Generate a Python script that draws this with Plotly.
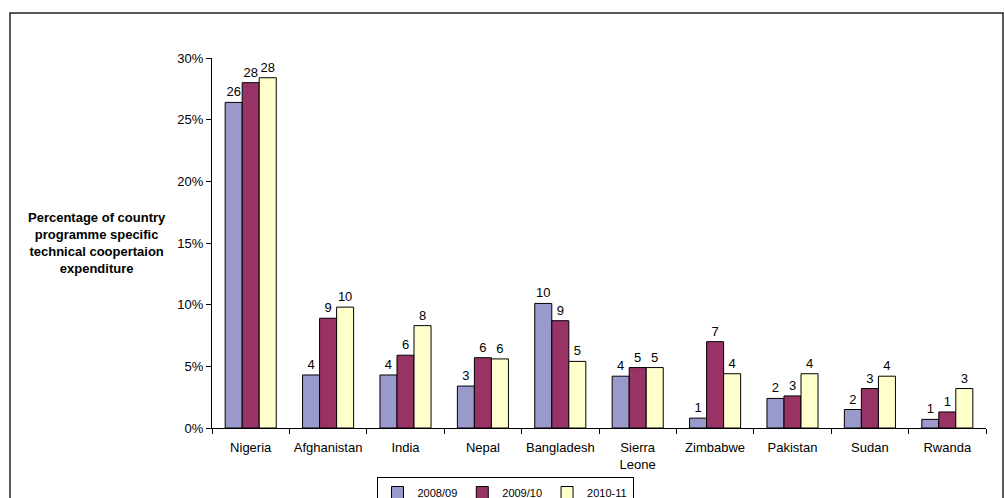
import plotly.graph_objects as go

categories = ["Nigeria", "Afghanistan", "India", "Nepal", "Bangladesh", "Sierra<br>Leone",
              "Zimbabwe", "Pakistan", "Sudan", "Rwanda"]
series_names = ["2008/09", "2009/10", "2010-11"]
v2008 = [26.4, 4.3, 4.3, 3.4, 10.1, 4.2, 0.8, 2.4, 1.5, 0.7]
v2009 = [28.0, 8.9, 5.9, 5.7, 8.7, 4.9, 7.0, 2.6, 3.2, 1.3]
v2010 = [28.4, 9.8, 8.3, 5.6, 5.4, 4.9, 4.4, 4.4, 4.2, 3.2]
colors = ["#9999CC", "#993366", "#FFFFCC"]
y_ticks = [0, 5, 10, 15, 20, 25, 30]
y_ticktext = [f"{v}%" for v in y_ticks]

FONT = "Arial, 'Liberation Sans', sans-serif"

fig = go.Figure()
for name, vals, col in zip(series_names, [v2008, v2009, v2010], colors):
    fig.add_trace(go.Bar(
        x=categories, y=vals, name=name,
        marker=dict(color=col, line=dict(color="#000000", width=1)),
        text=vals, texttemplate="%{y:.0f}", textposition="outside",
        textfont=dict(size=13, color="#000000", family=FONT),
        cliponaxis=False,
    ))

W, H = 1004, 498
L, R, T, B = 212, 18, 58, 70
pw, ph = W - L - R, H - T - B

def px(x):
    return (x - L) / pw

def py(y):
    return (H - B - y) / ph

fig.update_layout(
    width=W, height=H,
    margin=dict(l=L, r=R, t=T, b=B, autoexpand=False),
    paper_bgcolor="white", plot_bgcolor="white",
    barmode="group", bargap=0.34, bargroupgap=0,
    font=dict(family=FONT, size=13, color="#000000"),
    showlegend=True,
    legend=dict(orientation="h", x=px(505), xanchor="center", y=py(477), yanchor="top",
                bordercolor="#000000", borderwidth=1, bgcolor="white",
                font=dict(size=11, family=FONT), traceorder="normal",
                itemwidth=30),
    xaxis=dict(showline=True, linecolor="#000000", linewidth=1, ticks="outside",
               tickson="boundaries", ticklen=5, tickcolor="#000000", tickangle=0,
               ticklabelstandoff=7,
               showgrid=False, tickfont=dict(size=13, family=FONT), fixedrange=True),
    yaxis=dict(range=[0, 30], tickvals=y_ticks, ticktext=y_ticktext, showline=True,
               linecolor="#000000", linewidth=1, ticks="outside", ticklen=5,
               tickcolor="#000000", showgrid=False, zeroline=False,
               tickfont=dict(size=13, family=FONT)),
    shapes=[dict(type="rect", xref="paper", yref="paper",
                 x0=px(10), x1=px(1003), y0=py(510), y1=py(13),
                 line=dict(color="#222222", width=1.5), fillcolor="rgba(0,0,0,0)", layer="below")],
    annotations=[dict(xref="paper", yref="paper", x=px(97), y=py(243),
                      text="<b>Percentage of country<br>programme specific<br>technical coopertaion<br>expenditure</b>",
                      showarrow=False, align="center", xanchor="center", yanchor="middle",
                      font=dict(size=13, family=FONT, color="#000000"))],
)

fig.write_html("out.html")
